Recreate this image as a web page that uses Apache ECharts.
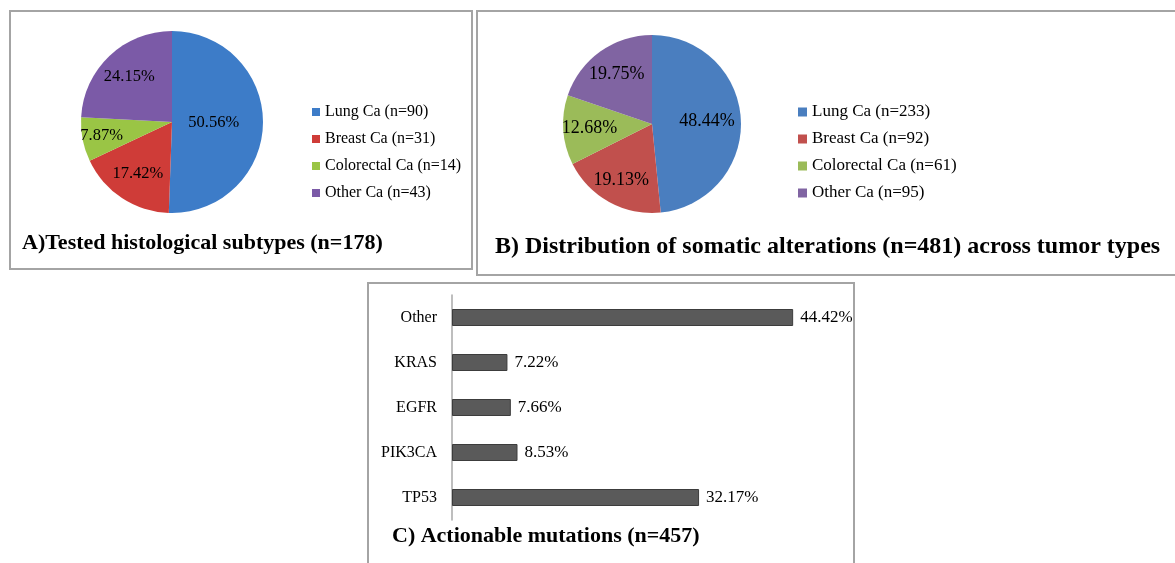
<!DOCTYPE html>
<html>
<head>
<meta charset="utf-8">
<title>Tumor types and actionable mutations</title>
<script src="https://cdn.jsdelivr.net/npm/echarts@6/dist/echarts.min.js"></script>
<style>
  html, body { margin: 0; padding: 0; background: #ffffff; }
  #chart { width: 1175px; height: 563px; }
</style>
</head>
<body>
<div id="chart"></div>
<script>
// Panel A: tested histological subtypes
const subtypeNames = ['Lung Ca', 'Breast Ca', 'Colorectal Ca', 'Other Ca'];
const subtypeCounts = [90, 31, 14, 43];
const subtypePercents = [50.56, 17.42, 7.87, 24.15];

// Panel B: somatic alterations by tumor type
const alterationNames = ['Lung Ca', 'Breast Ca', 'Colorectal Ca', 'Other Ca'];
const alterationCounts = [233, 92, 61, 95];
const alterationPercents = [48.44, 19.13, 12.68, 19.75];

// Panel C: actionable mutations (bottom to top)
const genes = ['TP53', 'PIK3CA', 'EGFR', 'KRAS', 'Other'];
const genePercents = [32.17, 8.53, 7.66, 7.22, 44.42];

const SERIF = "'Liberation Serif', 'Times New Roman', serif";
const colorsA = ['#3D7CC8', '#CF3C38', '#9AC545', '#7B5AA7'];
const colorsB = ['#4A7EBF', '#C1504D', '#9BBB59', '#8064A2'];

const pieA = { cx: 172, cy: 122, r: 91, labelFrac: [0.43, 0.64, 0.74, 0.64] };
const pieB = { cx: 652, cy: 124, r: 89, labelFrac: [0.58, 0.67, 0.66, 0.64] };

function legendName(name, n) { return name + ' (n=' + n + ')'; }

function pieData(names, counts, values, colors) {
  return names.map((nm, i) => ({
    name: legendName(nm, counts[i]),
    value: values[i],
    itemStyle: { color: colors[i] }
  }));
}

// Pie labels sit at the sector's mid radius by default; push each one
// along its own direction to the radius fraction it should sit at.
function pieLabelLayout(geom) {
  return function (p) {
    const lx = p.labelRect.x + p.labelRect.width / 2;
    const ly = p.labelRect.y + p.labelRect.height / 2;
    const k = geom.labelFrac[p.dataIndex] / 0.5 - 1;
    return { dx: (lx - geom.cx) * k, dy: (ly - geom.cy) * k };
  };
}

function pieSeries(geom, data, fontSize) {
  return {
    type: 'pie',
    center: [geom.cx, geom.cy],
    radius: geom.r,
    startAngle: 90,
    clockwise: true,
    animation: false,
    data: data,
    itemStyle: { borderWidth: 0 },
    label: {
      show: true,
      position: 'inside',
      formatter: p => p.value.toFixed(2) + '%',
      fontFamily: SERIF,
      fontSize: fontSize,
      color: '#000'
    },
    labelLine: { show: false },
    labelLayout: pieLabelLayout(geom),
    emphasis: { disabled: true }
  };
}

const dataA = pieData(subtypeNames, subtypeCounts, subtypePercents, colorsA);
const dataB = pieData(alterationNames, alterationCounts, alterationPercents, colorsB);

const chart = echarts.init(document.getElementById('chart'), null, { renderer: 'canvas' });

chart.setOption({
  backgroundColor: '#ffffff',
  animation: false,
  legend: [
    {
      data: dataA.map(d => d.name),
      orient: 'vertical',
      left: 307, top: 97,
      icon: 'rect', itemWidth: 8, itemHeight: 8,
      itemGap: 7,
      selectedMode: false,
      textStyle: { fontFamily: SERIF, fontSize: 16, color: '#000', lineHeight: 20 }
    },
    {
      data: dataB.map(d => d.name),
      orient: 'vertical',
      left: 793, top: 97,
      icon: 'rect', itemWidth: 9, itemHeight: 9,
      itemGap: 7,
      selectedMode: false,
      textStyle: { fontFamily: SERIF, fontSize: 17, color: '#000', lineHeight: 20 }
    }
  ],
  grid: { left: 452, top: 295, width: 384, height: 225 },
  xAxis: { type: 'value', min: 0, max: 50, show: false },
  yAxis: {
    type: 'category',
    data: genes,
    axisLine: { show: true, lineStyle: { color: '#A8A8A8', width: 1.5 } },
    axisTick: { show: false },
    splitLine: { show: false },
    axisLabel: { fontFamily: SERIF, fontSize: 16, color: '#000', margin: 15 }
  },
  series: [
    pieSeries(pieA, dataA, 16.5),
    pieSeries(pieB, dataB, 18),
    {
      type: 'bar',
      data: genePercents,
      barWidth: 17,
      itemStyle: { color: '#5A5A5A', borderColor: '#3C3C3C', borderWidth: 1 },
      label: {
        show: true,
        position: 'right',
        distance: 7,
        formatter: p => p.value.toFixed(2) + '%',
        fontFamily: SERIF,
        fontSize: 17,
        color: '#000'
      },
      emphasis: { disabled: true }
    }
  ],
  graphic: [
    // panel frames
    { type: 'rect', silent: true, z: 0,
      shape: { x: 10, y: 11, width: 462, height: 258 },
      style: { fill: 'none', stroke: '#A4A4A4', lineWidth: 2 } },
    { type: 'rect', silent: true, z: 0,
      shape: { x: 477, y: 11, width: 720, height: 264 },
      style: { fill: 'none', stroke: '#A4A4A4', lineWidth: 2 } },
    { type: 'rect', silent: true, z: 0,
      shape: { x: 368, y: 283, width: 486, height: 300 },
      style: { fill: 'none', stroke: '#A4A4A4', lineWidth: 2 } },
    // panel captions
    { type: 'text', silent: true,
      style: { text: 'A)Tested histological subtypes (n=178)', x: 22, y: 243,
               font: 'bold 22px ' + SERIF, fill: '#000', verticalAlign: 'middle' } },
    { type: 'text', silent: true,
      style: { text: 'B) Distribution of somatic alterations (n=481) across tumor types', x: 495, y: 247,
               font: 'bold 24px ' + SERIF, fill: '#000', verticalAlign: 'middle' } },
    { type: 'text', silent: true,
      style: { text: 'C) Actionable mutations (n=457)', x: 392, y: 536,
               font: 'bold 22px ' + SERIF, fill: '#000', verticalAlign: 'middle' } }
  ]
});
</script>
</body>
</html>
